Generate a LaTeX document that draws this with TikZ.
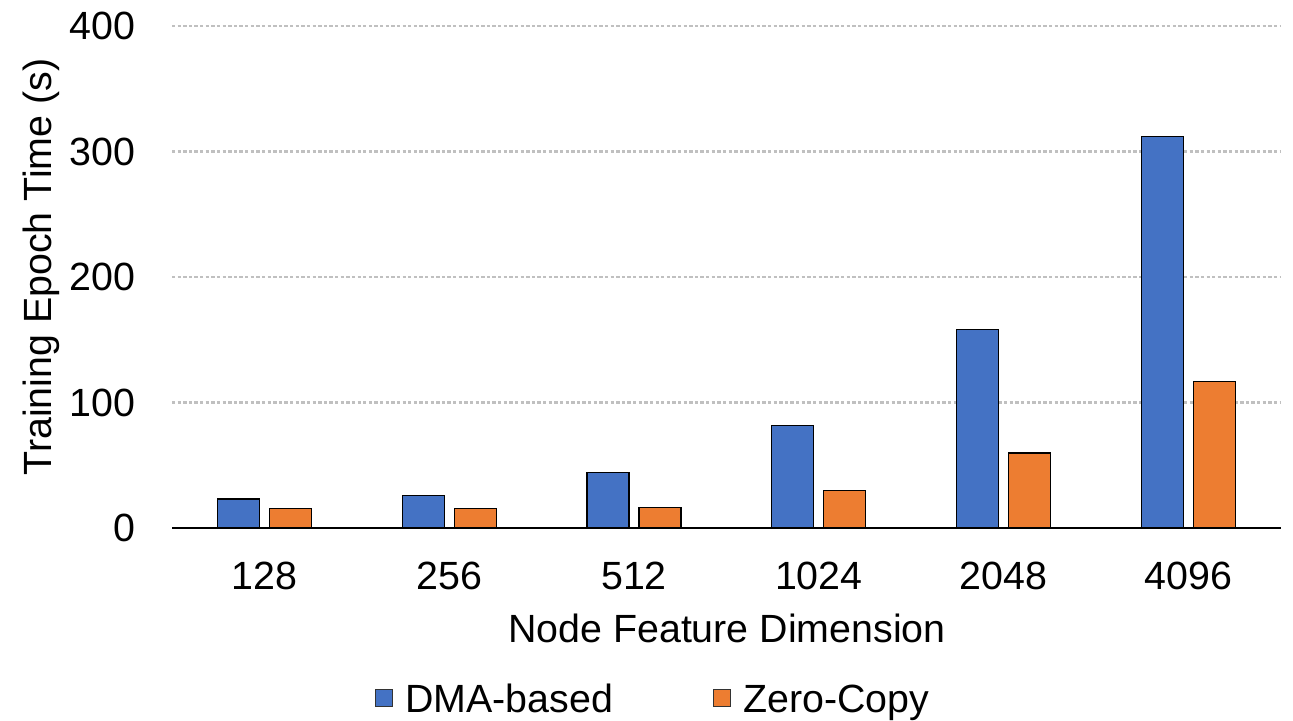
\documentclass[tikz,border=0pt]{standalone}
\usepackage{fontspec}
\setmainfont{Liberation Sans}
\usetikzlibrary{positioning}

\definecolor{dmablue}{HTML}{4472C4}
\definecolor{zcorange}{HTML}{ED7D31}
\definecolor{gridgray}{HTML}{C0C0C0}

\begin{document}
\begin{tikzpicture}[x=0.02cm,y=0.02cm,
    every node/.style={font=\fontsize{22.4}{27}\selectfont, inner sep=0pt},
    bar/.style={draw=black, line width=0.75pt},
    gridline/.style={gridgray, line width=1.6pt, dash pattern=on 1.9pt off 1.3pt},
    legbox/.style={draw=black!80, line width=0.6pt, minimum size=0.34cm}]
      \useasboundingbox (-172,-192) rectangle (1121,528);

      %Grille et graduations
      \foreach \v in {100,200,300,400}
        \draw[gridline] (0,\v*1.255) -- (1109,\v*1.255);
      \foreach \v in {0,100,200,300,400}
        \node[anchor=east] (ytick\v) at (-36,\v*1.255) {\v};

      %Barres
      \foreach \i/\lab/\a/\b in {0/128/23.1/15.6, 1/256/26/15.8, 2/512/44.4/16.5,
                                 3/1024/81.8/29.7, 4/2048/158.3/59.8, 5/4096/311.8/116.9}{
        \pgfmathsetmacro\cx{92.4+184.8*\i}
        \filldraw[bar, fill=dmablue] (\cx-47,0) rectangle (\cx-5,\a*1.255);
        \filldraw[bar, fill=zcorange] (\cx+5,0) rectangle (\cx+47,\b*1.255);
        \node[anchor=base] (xtick\i) at (\cx,-61) {\lab};
      }

      %Axe
      \draw[line width=1.4pt] (0,0) -- (1109,0);

      %Titres
      \node[anchor=base] (xtitle) at (555,-114) {Node Feature Dimension};
      \node[rotate=90] (ytitle) at (-131,261) {Training Epoch Time (s)};

      %Légende
      \node[legbox, fill=dmablue] (keydma) at (212,-170) {};
      \node[anchor=base west] (legdma) at (233,-184) {DMA-based};
      \node[legbox, fill=zcorange] (keyzc) at (550,-170) {};
      \node[anchor=base west] (legzc) at (571,-184) {Zero-Copy};
\end{tikzpicture}
\end{document}
